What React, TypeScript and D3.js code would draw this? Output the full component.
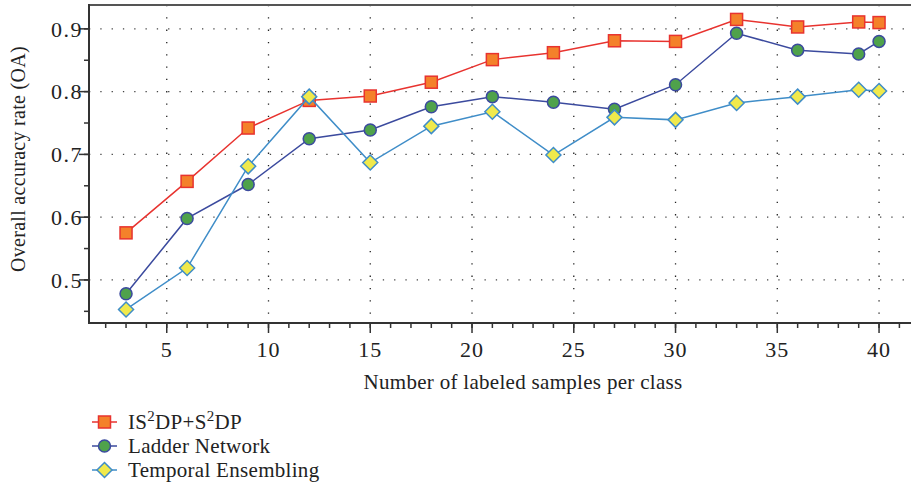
import React from "react";
import * as d3 from "d3";

const xValues = [3, 6, 9, 12, 15, 18, 21, 24, 27, 30, 33, 36, 39, 40];
const seriesIS = [0.575, 0.657, 0.742, 0.786, 0.793, 0.815, 0.851, 0.862, 0.881, 0.880, 0.915, 0.903, 0.911, 0.910];
const seriesLadder = [0.478, 0.598, 0.652, 0.725, 0.739, 0.776, 0.792, 0.783, 0.772, 0.811, 0.893, 0.866, 0.860, 0.880];
const seriesTemporal = [0.453, 0.519, 0.681, 0.792, 0.687, 0.745, 0.768, 0.699, 0.759, 0.755, 0.782, 0.792, 0.803, 0.801];
const xTicks = [5, 10, 15, 20, 25, 30, 35, 40];
const yTicks = [0.5, 0.6, 0.7, 0.8, 0.9];

const W = 911, H = 487;
const L = 89, T = 5, R = 911, B = 323;
const FONT = "'Liberation Serif', 'DejaVu Serif', serif";

export default function App() {
  const x = d3.scaleLinear().domain([1.18, 41.57]).range([L, R]);
  const y = d3.scaleLinear().domain([0.4314, 0.938]).range([B, T]);
  const line = d3.line<number>().x((_, i) => x(xValues[i])).y((d) => y(d));

  const xMinor = d3.range(2, 42);
  const yMinor = d3.range(0.45, 0.94, 0.05);

  const series = [
    { name: "IS", data: seriesIS, line: "#e8332f", fill: "#f4812a", stroke: "#e8332f", shape: "square" },
    { name: "Ladder Network", data: seriesLadder, line: "#3b4a9e", fill: "#4fa24b", stroke: "#3b4a9e", shape: "circle" },
    { name: "Temporal Ensembling", data: seriesTemporal, line: "#3f8dc8", fill: "#f0e94c", stroke: "#3f8dc8", shape: "diamond" },
  ];

  const marker = (s: any, cx: number, cy: number, key: any) => {
    if (s.shape === "square")
      return <rect key={key} x={cx - 6} y={cy - 6} width={12} height={12} fill={s.fill} stroke={s.stroke} strokeWidth={1.5} />;
    if (s.shape === "circle")
      return <circle key={key} cx={cx} cy={cy} r={6} fill={s.fill} stroke={s.stroke} strokeWidth={1.5} />;
    return <path key={key} d={`M${cx},${cy - 7.5}L${cx + 7.5},${cy}L${cx},${cy + 7.5}L${cx - 7.5},${cy}Z`} fill={s.fill} stroke={s.stroke} strokeWidth={1.5} />;
  };

  return (
    <svg width={W} height={H} style={{ position: "absolute", left: 0, top: 0, background: "#fff" }} fontFamily={FONT}>
      <rect width={W} height={H} fill="#fff" />
      {/* grid */}
      {yTicks.map((t) => (
        <line key={"gy" + t} x1={L} x2={R} y1={y(t)} y2={y(t)} stroke="#444" strokeWidth={1.3} strokeDasharray="1.3,10" />
      ))}
      {xTicks.map((t) => (
        <line key={"gx" + t} x1={x(t)} x2={x(t)} y1={T} y2={B} stroke="#222" strokeWidth={1.3} strokeDasharray="1.3,11" />
      ))}
      {/* frame */}
      <line x1={L} x2={R} y1={T} y2={T} stroke="#555" strokeWidth={2} />
      <line x1={L} x2={L} y1={T - 1} y2={B + 1} stroke="#333" strokeWidth={2} />
      <line x1={L - 1} x2={R} y1={B} y2={B} stroke="#333" strokeWidth={2} />
      {/* y ticks */}
      {yMinor.map((t) => (
        <line key={"ym" + t} x1={L - 5} x2={L} y1={y(t)} y2={y(t)} stroke="#333" strokeWidth={1.5} />
      ))}
      {yTicks.map((t) => (
        <g key={"yt" + t}>
          <line x1={L - 10} x2={L} y1={y(t)} y2={y(t)} stroke="#333" strokeWidth={1.5} />
          <text x={L - 6} y={y(t)} dy="0.35em" textAnchor="end" fontSize={22} letterSpacing={1.5} fill="#222">{d3.format(".1f")(t)}</text>
        </g>
      ))}
      {/* x ticks */}
      {xMinor.map((t) => (
        <line key={"xm" + t} x1={x(t)} x2={x(t)} y1={B} y2={B + 5} stroke="#333" strokeWidth={1.5} />
      ))}
      {xTicks.map((t) => (
        <g key={"xt" + t}>
          <line x1={x(t)} x2={x(t)} y1={B} y2={B + 10} stroke="#333" strokeWidth={1.5} />
          <text x={x(t)} y={357} textAnchor="middle" fontSize={22} letterSpacing={1} fill="#222">{t}</text>
        </g>
      ))}
      <text x={523} y={389} textAnchor="middle" fontSize={21} letterSpacing={0.3} fill="#222">Number of labeled samples per class</text>
      <text transform={`translate(25,${159}) rotate(-90)`} textAnchor="middle" fontSize={20} letterSpacing={0.3} fill="#222">Overall accuracy rate (OA)</text>
      {/* series */}
      {series.map((s) => (
        <g key={s.name}>
          <path d={line(s.data) || ""} fill="none" stroke={s.line} strokeWidth={1.5} />
          {s.data.map((v, i) => marker(s, x(xValues[i]), y(v), i))}
        </g>
      ))}
      {/* legend */}
      {series.map((s, i) => {
        const ly = 422 + i * 24;
        return (
          <g key={"lg" + i}>
            <line x1={92} x2={117} y1={ly} y2={ly} stroke={s.line} strokeWidth={1.5} />
            {marker(s, 104.5, ly, "m")}
            <text x={128} y={ly} dy="0.35em" fontSize={21} letterSpacing={0.3} fill="#222">
              {i === 0 ? (
                <>
                  IS<tspan dy="-8" fontSize={15}>2</tspan><tspan dy="8">DP+S</tspan><tspan dy="-8" fontSize={15}>2</tspan><tspan dy="8">DP</tspan>
                </>
              ) : s.name}
            </text>
          </g>
        );
      })}
    </svg>
  );
}
